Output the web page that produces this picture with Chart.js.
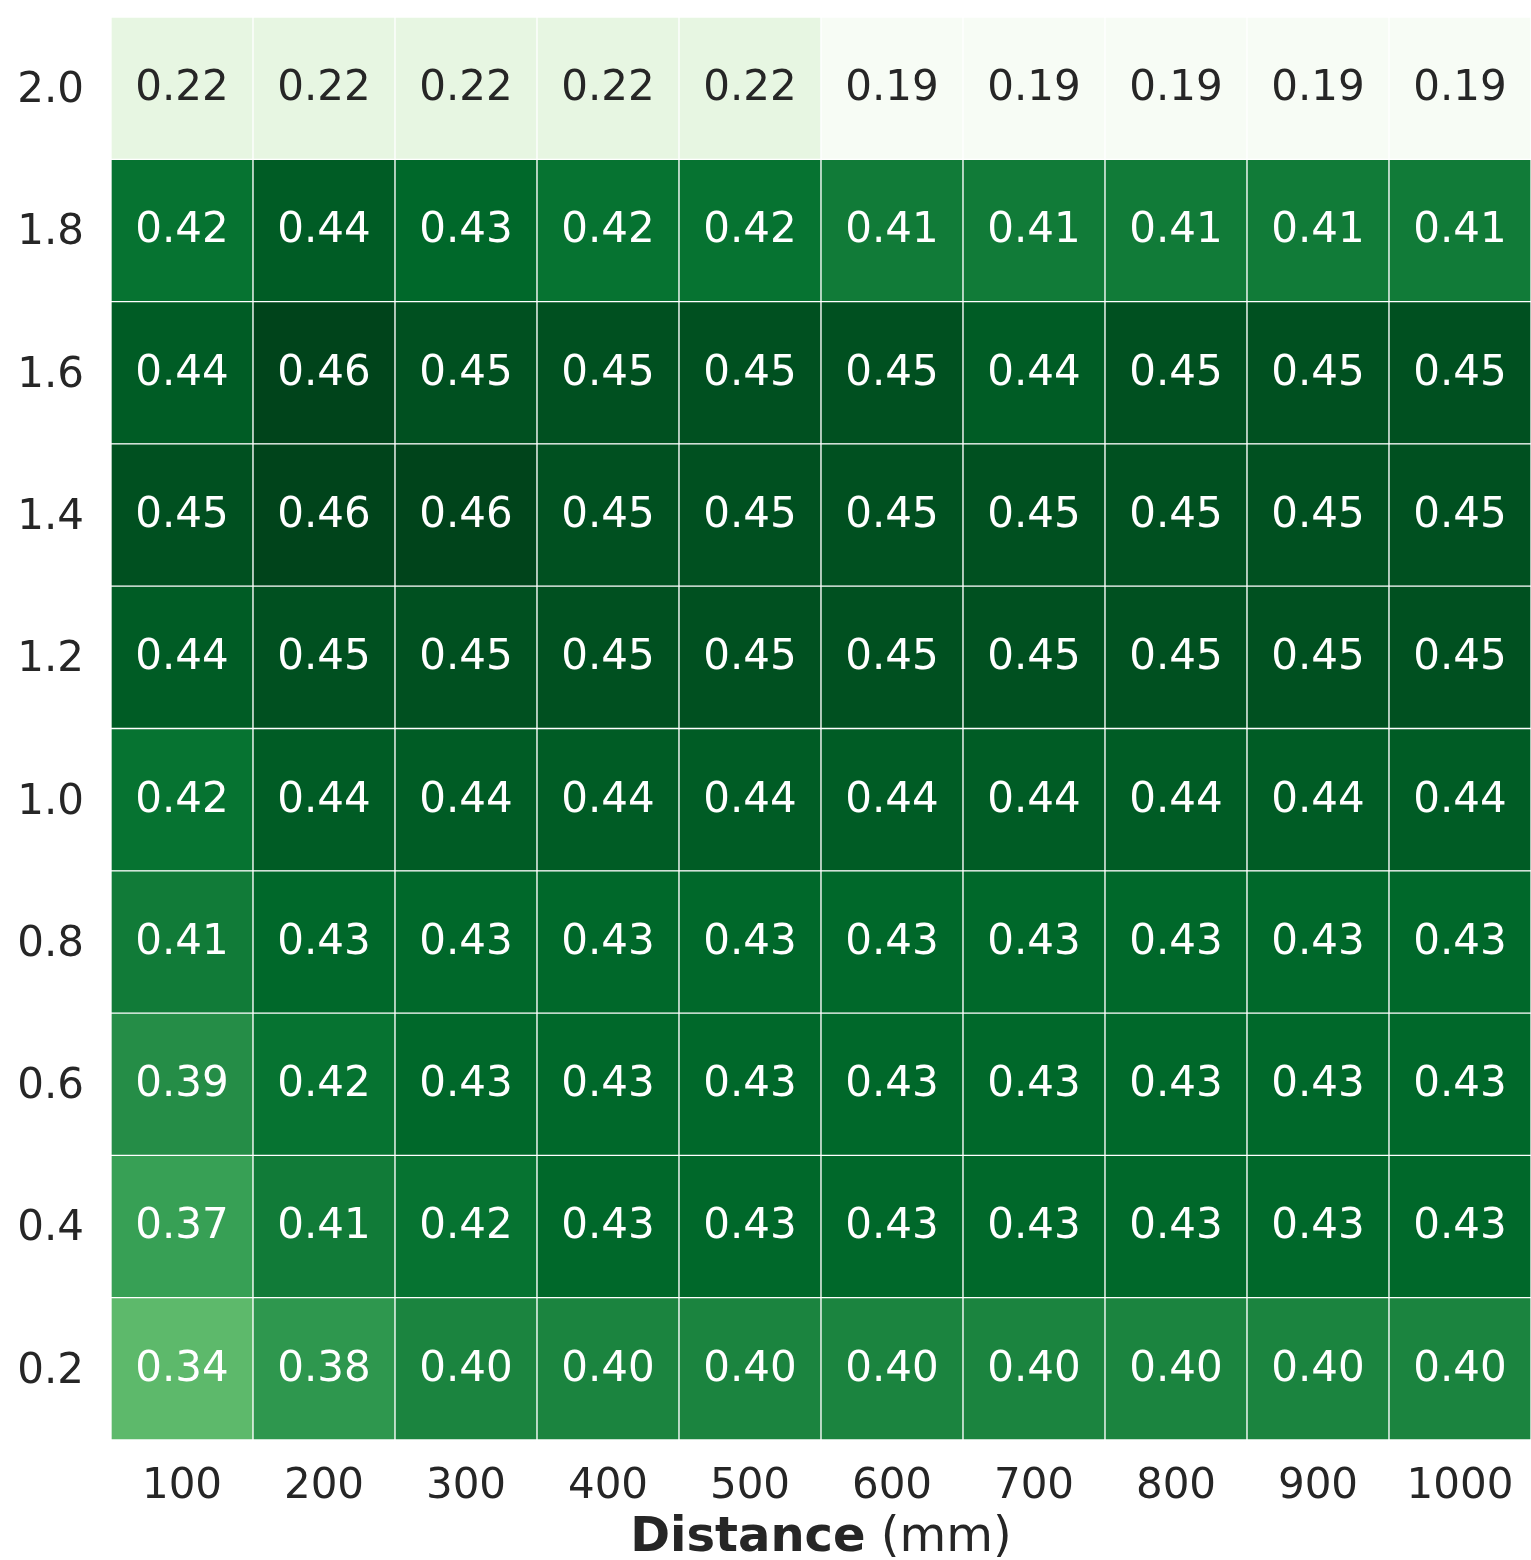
<!DOCTYPE html>
<html>
<head>
<meta charset="utf-8">
<script src="https://cdn.jsdelivr.net/npm/chart.js@4.4.0/dist/chart.umd.min.js"></script>
<style>
  body { margin: 0; background: #fff; }
  #wrap { width: 1531px; height: 1560px; }
</style>
</head>
<body>
<div id="wrap"><canvas id="heat"></canvas></div>
<script>
// columns (distance, mm) and rows (bottom to top)
const distances = ['100', '200', '300', '400', '500', '600', '700', '800', '900', '1000'];
const rowLabels = ['0.2', '0.4', '0.6', '0.8', '1.0', '1.2', '1.4', '1.6', '1.8', '2.0'];

const row02 = [0.34, 0.38, 0.40, 0.40, 0.40, 0.40, 0.40, 0.40, 0.40, 0.40];
const row04 = [0.37, 0.41, 0.42, 0.43, 0.43, 0.43, 0.43, 0.43, 0.43, 0.43];
const row06 = [0.39, 0.42, 0.43, 0.43, 0.43, 0.43, 0.43, 0.43, 0.43, 0.43];
const row08 = [0.41, 0.43, 0.43, 0.43, 0.43, 0.43, 0.43, 0.43, 0.43, 0.43];
const row10 = [0.42, 0.44, 0.44, 0.44, 0.44, 0.44, 0.44, 0.44, 0.44, 0.44];
const row12 = [0.44, 0.45, 0.45, 0.45, 0.45, 0.45, 0.45, 0.45, 0.45, 0.45];
const row14 = [0.45, 0.46, 0.46, 0.45, 0.45, 0.45, 0.45, 0.45, 0.45, 0.45];
const row16 = [0.44, 0.46, 0.45, 0.45, 0.45, 0.45, 0.44, 0.45, 0.45, 0.45];
const row18 = [0.42, 0.44, 0.43, 0.42, 0.42, 0.41, 0.41, 0.41, 0.41, 0.41];
const row20 = [0.22, 0.22, 0.22, 0.22, 0.22, 0.19, 0.19, 0.19, 0.19, 0.19];

const rows = [row02, row04, row06, row08, row10, row12, row14, row16, row18, row20];

const vmin = 0.19, vmax = 0.46;

// matplotlib "Greens"
const greens = ['#f7fcf5', '#e5f5e0', '#c7e9c0', '#a1d99b', '#74c476', '#41ab5d', '#238b45', '#006d2c', '#00441b'];

function hexToRgb(h) {
    return [parseInt(h.slice(1, 3), 16), parseInt(h.slice(3, 5), 16), parseInt(h.slice(5, 7), 16)];
}

function greenColor(v) {
    let t = (v - vmin) / (vmax - vmin);
    t = Math.max(0, Math.min(1, t));
    const pos = t * (greens.length - 1);
    const i = Math.min(Math.floor(pos), greens.length - 2);
    const f = pos - i;
    const a = hexToRgb(greens[i]), b = hexToRgb(greens[i + 1]);
    const c = a.map((x, k) => Math.round(x + (b[k] - x) * f));
    return `rgb(${c[0]},${c[1]},${c[2]})`;
}

const datasets = rows.map((vals, r) => ({
    label: rowLabels[r],
    data: vals.map(() => [r - 0.5, r + 0.5]),
    values: vals,
    backgroundColor: vals.map(greenColor),
    borderColor: '#ffffff',
    borderWidth: 1,
    borderSkipped: false,
    barPercentage: 1,
    categoryPercentage: 1
}));

const FONT = '"DejaVu Sans", sans-serif';

const cellText = {
    id: 'cellText',
    afterDatasetsDraw(chart) {
        const ctx = chart.ctx;
        ctx.save();
        ctx.font = '42px ' + FONT;
        ctx.textAlign = 'center';
        ctx.textBaseline = 'middle';
        chart.data.datasets.forEach((ds, di) => {
            chart.getDatasetMeta(di).data.forEach((bar, i) => {
                const v = ds.values[i];
                const p = bar.getProps(['x', 'y', 'base'], true);
                ctx.fillStyle = v < 0.3 ? '#262626' : '#ffffff';
                ctx.fillText(v.toFixed(2), p.x, (p.y + p.base) / 2 + 1);
            });
        });
        // x axis title: bold "Distance" + regular " (mm)"
        const area = chart.chartArea;
        const cx = (area.left + area.right) / 2;
        ctx.textBaseline = 'alphabetic';
        ctx.textAlign = 'left';
        ctx.fillStyle = '#262626';
        ctx.font = 'bold 48px ' + FONT;
        const w1 = ctx.measureText('Distance').width;
        ctx.font = '48px ' + FONT;
        const w2 = ctx.measureText(' (mm)').width;
        let x0 = cx - (w1 + w2) / 2;
        ctx.font = 'bold 48px ' + FONT;
        ctx.fillText('Distance', x0, 1551);
        ctx.font = '48px ' + FONT;
        ctx.fillText(' (mm)', x0 + w1, 1551);
        ctx.restore();
    }
};

new Chart(document.getElementById('heat'), {
    type: 'bar',
    data: { labels: distances, datasets: datasets },
    options: {
        responsive: true,
        maintainAspectRatio: false,
        animation: false,
        layout: { padding: { top: 17, right: 0, left: 0, bottom: 0 } },
        plugins: {
            legend: { display: false },
            tooltip: { enabled: false }
        },
        scales: {
            x: {
                stacked: true,
                grid: { display: false, drawTicks: false },
                border: { display: false },
                ticks: {
                    color: '#262626',
                    font: { family: FONT, size: 42 },
                    padding: 22,
                    maxRotation: 0
                },
                afterFit(axis) {
                    axis.height = 120;
                    axis.paddingLeft = 0;
                    axis.paddingRight = 0;
                }
            },
            y: {
                min: -0.5,
                max: 9.5,
                grid: { display: false, drawTicks: false },
                border: { display: false },
                afterBuildTicks(axis) {
                    axis.ticks = rowLabels.map((_, i) => ({ value: i }));
                },
                ticks: {
                    color: '#262626',
                    font: { family: FONT, size: 42 },
                    padding: 27,
                    labelOffset: 3,
                    callback: (v) => rowLabels[v]
                },
                afterFit(axis) {
                    axis.width = 111;
                    axis.paddingTop = 0;
                    axis.paddingBottom = 0;
                }
            }
        }
    },
    plugins: [cellText]
});
</script>
</body>
</html>
